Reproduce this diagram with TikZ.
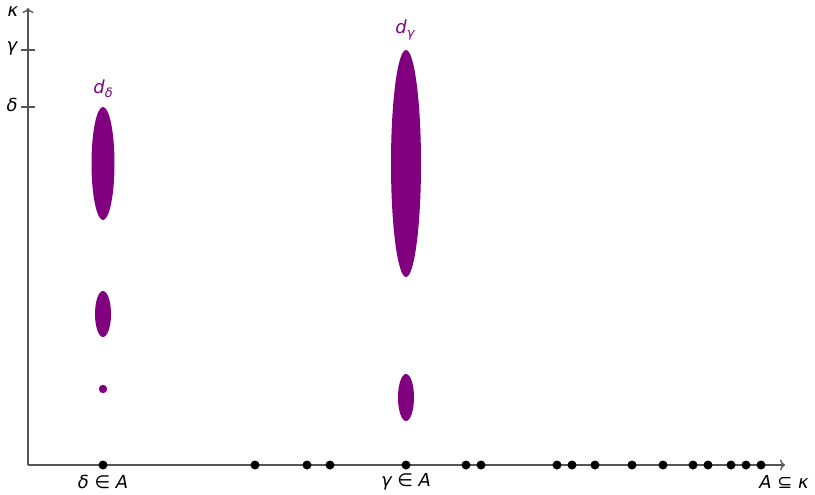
\documentclass[tikz,border=0pt]{standalone}
\usepackage{fontspec}
\newfontfamily\lab{DejaVu Sans}[Scale=0.92]
\usetikzlibrary{arrows.meta}
\definecolor{axisgray}{HTML}{555555}
\definecolor{blob}{HTML}{800080}
\tikzset{
  axisline/.style={draw=axisgray, line width=1.4pt},
  pt/.style={circle, fill=black, inner sep=0pt, minimum size=9pt},
  lbl/.style={font=\fontsize{19.5}{21}\selectfont\lab, inner sep=0pt},
  plbl/.style={lbl, text=blob},
  region/.style={fill=blob, draw=none},
}
\begin{document}
\begin{tikzpicture}[x=1pt,y=-1pt]
\useasboundingbox (0,0) rectangle (815,495);
\coordinate (O) at (28,465);
\coordinate (Ytop) at (28,8);
\coordinate (Xend) at (785,465);
\draw[axisline,-{To[length=5pt,width=11pt]}] (O) -- (Ytop);
\draw[axisline,-{To[length=5pt,width=11pt]}] (O) -- (Xend);
% ticks
\coordinate (tg1) at (21,50); \coordinate (tg2) at (35,50);
\coordinate (td1) at (21,107); \coordinate (td2) at (35,107);
\draw[axisline] (tg1) -- (tg2);
\draw[axisline] (td1) -- (td2);
\node[lbl] (kappa) at (13,12) {\itshape κ};
\node[lbl] (gam) at (12,48) {\itshape γ};
\node[lbl] (del) at (12,105) {\itshape δ};
% regions
\fill[region] (103,163.5) ellipse [x radius=11.5, y radius=56.5];
\fill[region] (103,314) ellipse [x radius=8, y radius=23];
\fill[region] (103,389) circle [radius=4.2];
\fill[region] (406,163.5) ellipse [x radius=15, y radius=113.5];
\fill[region] (406,397.5) ellipse [x radius=8, y radius=23.5];
\node[plbl] (dd) at (103,89) {\itshape d\raisebox{-3.5pt}{\fontsize{14}{15}\selectfont δ}};
\node[plbl] (dg) at (405,30) {\itshape d\raisebox{-3.5pt}{\fontsize{14}{15}\selectfont γ}};
% points
\foreach \x [count=\i] in {103,255,307,330,406,466,481,557,572,595,632,663,693,708,731,746,761}
  \node[pt] (p\i) at (\x,465) {};
\node[lbl] (ld) at (103,482) {\itshape δ \upshape ∈ \itshape A};
\node[lbl] (lg) at (406,482) {\itshape γ \upshape ∈ \itshape A};
\node[lbl] (lk) at (784,482) {\itshape A \upshape ⊆ \itshape κ};
\end{tikzpicture}
\end{document}
